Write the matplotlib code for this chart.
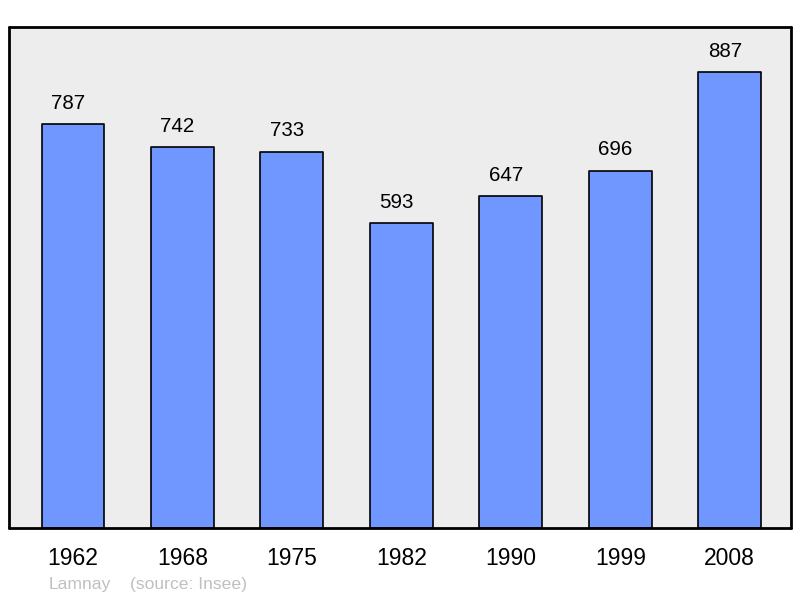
import matplotlib.pyplot as plt

# Population data (Lamnay)
years = ['1962', '1968', '1975', '1982', '1990', '1999', '2008']
population = [787, 742, 733, 593, 647, 696, 887]

plt.rcParams['font.family'] = ['Liberation Sans', 'DejaVu Sans']

fig = plt.figure(figsize=(8, 5.98), dpi=100)
ax = fig.add_axes([0.01125, 0.117, 0.9775, 0.838])
ax.set_facecolor('#ededed')

x = range(len(years))
bars = ax.bar(x, population, width=0.575, color='#7097ff', edgecolor='black',
              linewidth=1.2, zorder=2)
for b in bars:
    b.set_joinstyle('round')

# Value labels above bars (sit a little left of the bar centre)
for xi, v in zip(x, population):
    ax.annotate(str(v), (xi, v), xytext=(-3.5, 8), textcoords='offset points',
                ha='center', va='bottom', fontsize=14.8, color='black')

ax.set_xlim(-0.585, 6.56)
ax.set_ylim(0, max(population) * 1.1)
ax.set_xticks(list(x))
ax.set_xticklabels(years, fontsize=16.5)
ax.set_yticks([])
ax.tick_params(axis='x', length=0, pad=13.5)

for s in ax.spines.values():
    s.set_linewidth(2)
    s.set_capstyle('round')
    s.set_joinstyle('round')

fig.text(49 / 800, 1 - 584 / 598, 'Lamnay', fontsize=12.6, color='#c0c0c0',
         ha='left', va='center')
fig.text(130 / 800, 1 - 584 / 598, '(source: Insee)', fontsize=12.6, color='#c0c0c0',
         ha='left', va='center')

fig.savefig('out.png', dpi=100)
